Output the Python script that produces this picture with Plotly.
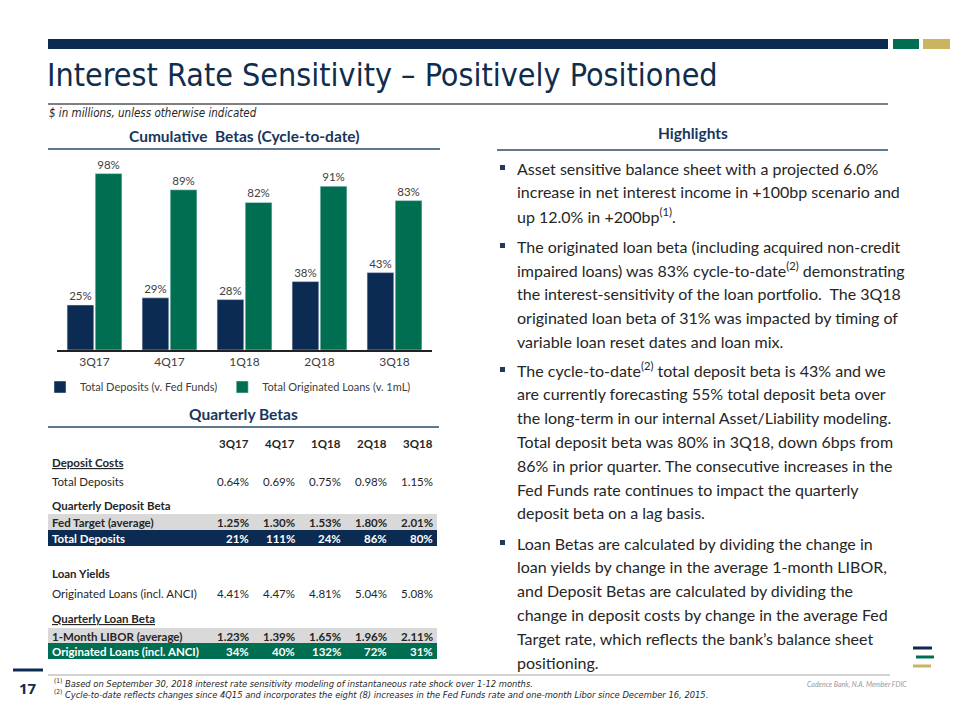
import plotly.graph_objects as go

W, H = 960, 720

def px(x):
    return x / W

def py(y):
    return 1 - y / H

NAVY = "#0c2b52"
GREEN = "#006e50"
GOLD = "#c9b462"
BAND_GRAY = "#d9d9d9"
TXT = "#262626"
LBL = "#404040"
FONT = "Lato, 'Open Sans', sans-serif"
NARROW = "'Liberation Sans Narrow', 'DejaVu Sans Condensed', sans-serif"

# ---------------- data ----------------
quarters = ["3Q17", "4Q17", "1Q18", "2Q18", "3Q18"]
cum_deposit_beta = [25, 29, 28, 38, 43]
cum_loan_beta = [98, 89, 82, 91, 83]
series_names = ["Total Deposits (v. Fed Funds)", "Total Originated Loans (v. 1mL)"]

deposit_costs = ["0.64%", "0.69%", "0.75%", "0.98%", "1.15%"]
fed_target = ["1.25%", "1.30%", "1.53%", "1.80%", "2.01%"]
qtr_deposit_beta = ["21%", "111%", "24%", "86%", "80%"]
loan_yields = ["4.41%", "4.47%", "4.81%", "5.04%", "5.08%"]
libor = ["1.23%", "1.39%", "1.65%", "1.96%", "2.11%"]
qtr_loan_beta = ["34%", "40%", "132%", "72%", "31%"]

row_labels = ["Deposit Costs", "Total Deposits", "Quarterly Deposit Beta",
              "Fed Target (average)", "Total Deposits", "Loan Yields",
              "Originated Loans (incl. ANCI)", "Quarterly Loan Beta",
              "1-Month LIBOR (average)", "Originated Loans (incl. ANCI)"]
row_values = [None, deposit_costs, None, fed_target, qtr_deposit_beta, None,
              loan_yields, None, libor, qtr_loan_beta]
row_styles = ["section_u", "plain", "section", "gray", "navy", "section",
              "plain", "section_u", "gray", "green"]

title = "Interest Rate Sensitivity – Positively Positioned"
subtitle = "$ in millions, unless otherwise indicated"
chart_title = "Cumulative  Betas (Cycle-to-date)"
table_title = "Quarterly Betas"
highlights_title = "Highlights"

bullets = [
    ["Asset sensitive balance sheet with a projected 6.0%",
     "increase in net interest income in +100bp scenario and",
     "up 12.0% in +200bp<sup>(1)</sup>."],
    ["The originated loan beta (including acquired non-credit",
     "impaired loans) was 83% cycle-to-date<sup>(2)</sup> demonstrating",
     "the interest-sensitivity of the loan portfolio.  The 3Q18",
     "originated loan beta of 31% was impacted by timing of",
     "variable loan reset dates and loan mix."],
    ["The cycle-to-date<sup>(2)</sup> total deposit beta is 43% and we",
     "are currently forecasting 55% total deposit beta over",
     "the long-term in our internal Asset/Liability modeling.",
     "Total deposit beta was 80% in 3Q18, down 6bps from",
     "86% in prior quarter. The consecutive increases in the",
     "Fed Funds rate continues to impact the quarterly",
     "deposit beta on a lag basis."],
    ["Loan Betas are calculated by dividing the change in",
     "loan yields by change in the average 1-month LIBOR,",
     "and Deposit Betas are calculated by dividing the",
     "change in deposit costs by change in the average Fed",
     "Target rate, which reflects the bank’s balance sheet",
     "positioning."],
]

footnotes = [
    ("(1)", "Based on September 30, 2018 interest rate sensitivity modeling of instantaneous rate shock over 1-12 months."),
    ("(2)", "Cycle-to-date reflects changes since 4Q15 and incorporates the eight (8) increases in the Fed Funds rate and one-month Libor since December 16, 2015."),
]
page_number = "17"
disclaimer = "Cadence Bank, N.A. Member FDIC"

# ---------------- figure ----------------
fig = go.Figure()
fig.add_trace(go.Bar(
    x=quarters, y=cum_deposit_beta, name=series_names[0], marker_color=NAVY,
    texttemplate="%{y}%", textposition="outside", cliponaxis=False,
    textfont=dict(size=11.5, color=LBL, family=FONT)))
fig.add_trace(go.Bar(
    x=quarters, y=cum_loan_beta, name=series_names[1], marker_color=GREEN,
    texttemplate="%{y}%", textposition="outside", cliponaxis=False,
    textfont=dict(size=11.5, color=LBL, family=FONT)))

shapes = []
annotations = []

def rect(x0, y0, x1, y1, color):
    shapes.append(dict(type="rect", xref="paper", yref="paper",
                       x0=px(x0), x1=px(x1), y0=py(y1), y1=py(y0),
                       fillcolor=color, line=dict(width=0), layer="below"))

def hline(x0, x1, y, color, width=1):
    shapes.append(dict(type="line", xref="paper", yref="paper",
                       x0=px(x0), x1=px(x1), y0=py(y), y1=py(y),
                       line=dict(color=color, width=width)))

def text(x, y, s, size, color=TXT, anchor="left", family=FONT, yanchor="middle"):
    annotations.append(dict(xref="paper", yref="paper", x=px(x), y=py(y),
                            text=s, showarrow=False, xanchor=anchor,
                            yanchor=yanchor, borderpad=0,
                            font=dict(size=size, color=color, family=family)))

# header decorations
rect(48, 39, 888, 49, NAVY)
rect(893, 39, 919, 49, GREEN)
rect(923, 39, 950, 49, GOLD)
text(46, 75, title, 32, color="#0f2d4d", family=NARROW)
hline(48, 888, 104, "#000000", 1)
text(48, 113, "<i>" + subtitle + "</i>", 11.5, color=TXT, family=NARROW)

# section titles
text(245, 136, "<b>" + chart_title + "</b>", 15.5, color="#17365d", anchor="center")
hline(48, 440, 149, "#2b4a6b", 1.5)
text(243, 414, "<b>" + table_title + "</b>", 15.5, color="#17365d", anchor="center")
hline(48, 439, 427, "#2b4a6b", 1.5)
text(693, 133, "<b>" + highlights_title + "</b>", 15.5, color="#17365d", anchor="center")
hline(497, 888, 150, "#2b4a6b", 1.5)

# table
TFS = 11.5
col_right = [250, 296, 342, 388, 434]
row_y = [462, 482, 506, 522, 538, 573, 593, 618, 636, 651]
for q, xr in zip(quarters, col_right):
    text(xr, 443, "<b>" + q + "</b>", TFS, anchor="right")
band_colors = {"gray": BAND_GRAY, "navy": NAVY, "green": GREEN}
for lab, vals, st, y in zip(row_labels, row_values, row_styles, row_y):
    color = TXT
    lab_s = lab
    val_fmt = "{}"
    if st in band_colors:
        rect(48, y - 8, 437, y + 8, band_colors[st])
        lab_s = "<b>" + lab + "</b>"
        val_fmt = "<b>{}</b>"
        if st != "gray":
            color = "#ffffff"
    elif st == "section_u":
        lab_s = "<b><u>" + lab + "</u></b>"
    elif st == "section":
        lab_s = "<b>" + lab + "</b>"
    text(51, y, lab_s, TFS, color=color)
    if vals:
        for v, xr in zip(vals, col_right):
            text(xr, y, val_fmt.format(v), TFS, color=color, anchor="right")

# highlights bullets
bullet_start = [168, 246, 370, 543]
line_gap = 23.8
for lines, y0 in zip(bullets, bullet_start):
    rect(500, y0 - 3, 505, y0 + 2, "#1f3a5a")
    for i, ln in enumerate(lines):
        text(516, y0 + i * line_gap, ln, 16, color=TXT)

# footer
hline(48, 890, 675, "#a6a6a6", 1)
rect(13, 668.5, 43, 671.5, NAVY)
text(28, 688, "<b>" + page_number + "</b>", 15, color="#0f2d4d", anchor="center",
     family="'Open Sans', sans-serif")
for (mark, fn), y in zip(footnotes, [683, 694]):
    text(53, y, "<sup>" + mark + "</sup> <i>" + fn + "</i>", 9.3, color=TXT, family=NARROW)
text(908, 684, "<i>" + disclaimer + "</i>", 7, color="#9a9a9a", anchor="right")
# logo
rect(913, 646.5, 932, 649.5, NAVY)
rect(916, 655.5, 934, 658.5, GREEN)
rect(913, 664.5, 931, 667.5, GOLD)

fig.update_layout(
    width=W, height=H, margin=dict(l=0, r=0, t=0, b=0),
    paper_bgcolor="white", plot_bgcolor="white",
    barmode="group", bargap=0.25, bargroupgap=0.05,
    font=dict(family=FONT, color=TXT),
    shapes=shapes, annotations=annotations,
    showlegend=True,
    legend=dict(orientation="h", x=px(228), xanchor="center", y=py(387),
                yanchor="middle", font=dict(size=11, color=LBL, family=FONT),
                itemwidth=30, bgcolor="rgba(0,0,0,0)"),
    xaxis=dict(domain=[px(57), px(432)], showline=True, linecolor="#222222",
               linewidth=1.5, ticks="", showgrid=False,
               tickfont=dict(size=12, color=LBL, family=FONT)),
    yaxis=dict(domain=[py(350), py(152)], range=[0, 110], visible=False,
               showgrid=False),
)

fig.write_html("out.html", config={"displayModeBar": False},
               post_script="document.body.style.margin='0px';document.body.style.padding='0px';")
